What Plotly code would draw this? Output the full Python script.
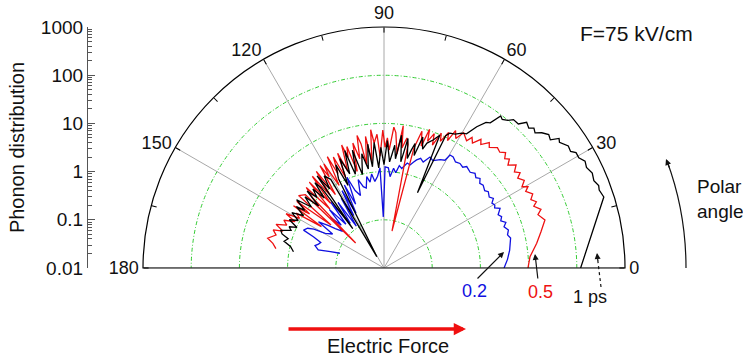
import plotly.graph_objects as go

W, H = 743, 357

# ---------------- data (polar angle in degrees, phonon distribution) ----------------
black_theta = [0, 17.9, 19.9, 21, 22.6, 24.5, 26.4, 28, 29.5, 31, 32, 33.5, 35.6, 36.5, 37.6, 39, 40.6,
               41.8, 43, 44, 45.6, 47, 48.9, 50, 51.5, 52.5, 53.8, 55, 56.7, 58.4, 60, 62, 64, 65, 66,
               67.2, 69, 71, 72, 73.5, 75, 76, 77, 78, 79.5, 81, 82.5, 84, 85, 86, 87, 88.5, 90, 91.5,
               93, 94.5, 95.5, 96.5, 97.5, 99, 101, 103, 105, 106, 107, 108.5, 110, 112, 113.5, 115,
               117, 122.5, 121, 123, 124.5, 126, 128.5, 128, 129, 130.5, 132, 133.5, 135, 136.5, 138,
               140, 142, 144, 145, 147, 149, 151, 153, 155, 156.5, 158, 160, 161.5, 163, 165, 167,
               169.8]
black_val = [120, 620, 560, 590, 520, 560, 490, 530, 440, 445, 367, 385, 300, 330, 227, 250, 205,
             160, 179, 150, 170, 122, 122, 100, 87, 95, 54, 49, 32, 18.5, 17, 14, 13, 10.7, 0.51,
             9.7, 7, 5.5, 3.9, 6.8, 2.6, 4.6, 3.2, 2.1, 5.4, 1.7, 6, 1.9, 3.6, 2.3, 1.6, 4.4, 1.4,
             3.2, 1.2, 4.1, 2.2, 1.3, 3.9, 1.2, 2.6, 0.98, 3.4, 1.5, 1.08, 3.7, 1.2, 2.8, 0.74, 2.3,
             1.2, 0.019, 1.4, 1.9, 0.98, 2.3, 0.11, 1.3, 1.9, 0.81, 1.6, 1.05, 1.8, 0.74, 1.6,
             0.93, 2.0, 1.08, 1.65, 0.98, 1.7, 1.08, 1.6, 0.98, 1.4, 1.2, 1.9, 1.7, 1.2, 1.4, 0.98,
             0.81]

red_theta = [0, 4.4, 9.2, 13, 16.6, 19.1, 20.5, 22.4, 23.5, 25, 26.5, 28.4, 29.5, 30.5, 32, 33.9, 35,
             36.4, 38, 39.7, 41, 42.2, 43.5, 45, 46.7, 48.9, 50, 51.9, 53, 54.7, 56, 57, 59.5, 61,
             62.5, 63.5, 64.5, 66, 67, 68.5, 69.5, 71, 71.8, 73, 74.5, 76, 77.8, 79, 80, 81.5, 82.3,
             83.5, 85, 86, 87.5, 88.5, 89.5, 90.5, 92, 93, 94.5, 95.5, 96.5, 98, 99.5, 100.5, 101.5,
             102.5, 104, 105.5, 107, 108, 109, 110.5, 112, 113, 114.5, 116, 117, 118.5, 120, 121,
             122, 123.5, 125, 126.5, 128, 129.5, 131, 132.5, 134, 135.5, 138.5, 137, 139.7, 141,
             142.6, 144, 145.5, 146.5, 148, 149.5, 151, 152.5, 154.5, 156.2, 158, 160, 161, 163,
             165.6, 167.5, 169.8]
red_val = [9.7, 10.9, 16.2, 22, 30.5, 24, 30, 23, 28, 23, 28, 22, 27, 21, 27, 22, 28,
           23, 30, 22, 28, 24, 30, 25, 27, 21, 25, 18, 22, 15, 18.5, 14, 18, 11.8,
           16.4, 9, 13, 7.5, 11, 5.5, 9.5, 6, 10.7, 4.4, 8.8, 3.7, 0.061, 4.1, 5.5, 3.3, 9.5,
           2.4, 6.6, 8.5, 2.8, 5, 3.2, 7.3, 2.1, 6, 4, 7.6, 1.7, 5.7, 1.5, 4.2, 6.4,
           2.1, 4.7, 1.2, 4.3, 2.6, 5, 1.4, 3.7, 1.08, 3.4, 1.5, 3.9, 0.89, 3.1, 1.6,
           3.2, 0.67, 2.8, 0.75, 2.6, 0.55, 2.3, 0.46, 2.1, 1.2, 0.061, 1.7, 2.1, 0.26,
           1.9, 0.81, 1.9, 0.36, 1.4, 1.08, 2.1, 1.2, 2.0, 1.6, 2.6, 1.7, 2.7, 2.2,
           3.1, 2.3, 1.9]

blue_theta = [0, 4, 8.1, 13.3, 15, 17, 19, 20.5, 22, 23.6, 25, 27.2, 28.5, 29.6, 31, 32.5, 34, 36.2,
              37.5, 39.9, 41.5, 43, 44.5, 46.1, 48, 50.8, 52, 54, 56, 58.1, 59.7, 60.5, 62.6, 64,
              65.5, 67.5, 69.7, 71.5, 73.2, 74.5, 75.8, 77.5, 79.9, 81.5, 83, 84.5, 86.2, 87.5,
              89.4, 90.8, 92.3, 94, 96, 97.5, 99.2, 100.7, 102.5, 104.3, 106.3, 108, 110.4, 112.2,
              114, 115.5, 117, 118.5, 120, 121.5, 123.5, 125, 127, 129, 131, 133, 135, 136.5,
              138.5, 141, 142.5, 144.8, 146.5, 149.5, 151, 152.5, 154.8, 156.1, 158, 160, 162,
              164.7, 163, 161.5]
blue_val = [3.1, 3.7, 4.3, 5, 4.5, 5, 4.3, 5, 4.1, 4.6, 4.1, 5.1, 4.1, 4.4, 4.1, 4.9, 4.3, 4.8,
            4.3, 4.8, 4.5, 5.3, 4.7, 5.3, 4.7, 5.2, 4.5, 4.8, 4.5, 5.2, 5.2, 3.7, 3.4, 3.1,
            2.8, 3.1, 2.2, 2.5, 2.2, 1.9, 1.6, 1.7, 1.25, 1.4, 0.98, 1.2, 0.79, 1.2,
            1.25, 0.115, 1.2, 0.81, 0.64, 0.93, 0.64, 0.85, 0.5, 0.55, 0.81, 0.38, 0.52, 1.08,
            0.28, 0.81, 0.19, 0.67, 0.18, 0.5, 0.11, 0.46, 0.145, 0.58, 0.16, 0.46, 0.18, 0.34,
            0.14, 0.2, 0.28, 0.46, 0.19, 0.26, 0.46, 0.61, 0.70, 0.4, 0.26, 0.28, 0.32,
            0.26, 0.145, 0.092]

spoke_angles = [0, 30, 60, 90, 120, 150, 180]
radial_range = [0.01, 1000]
decade_vals = [0.01, 0.1, 1, 10, 100, 1000]
decade_text = ["0.01", "0.1", "1", "10", "100", "1000"]
angle_tickvals = list(range(0, 181, 15))
angle_ticktext = [str(a) if a % 30 == 0 else "" for a in angle_tickvals]

FONT = "Liberation Sans, Arial, sans-serif"


def px(x):
    return x / W


def py(y):
    return 1 - y / H


fig = go.Figure()

for a in spoke_angles:
    fig.add_trace(go.Scatterpolar(r=radial_range, theta=[a, a], mode="lines",
                                  line=dict(color="#a8a8a8", width=1),
                                  showlegend=False, hoverinfo="skip"))

for th, v, c in [(blue_theta, blue_val, "#1010e0"),
                 (red_theta, red_val, "#ee1111"),
                 (black_theta, black_val, "#000000")]:
    fig.add_trace(go.Scatterpolar(r=v, theta=th, mode="lines",
                                  line=dict(color=c, width=1.3),
                                  showlegend=False, hoverinfo="skip"))

# dummy cartesian trace so the left log axis is drawn
fig.add_trace(go.Scatter(x=[None], y=[None], xaxis="x", yaxis="y",
                         showlegend=False, hoverinfo="skip"))

ydom = [py(268), py(27)]
minor_vals = [m * 10 ** e for e in range(-2, 3) for m in range(2, 10)]

fig.update_layout(
    width=W, height=H,
    margin=dict(l=0, r=0, t=0, b=0, pad=0, autoexpand=False),
    paper_bgcolor="white", plot_bgcolor="white",
    font=dict(family=FONT, color="#111"),
    polar=dict(
        domain=dict(x=[px(143), px(625)], y=ydom),
        sector=[0, 180],
        bgcolor="white",
        radialaxis=dict(type="log", range=[-2, 3], tickvals=[0.1, 1, 10, 100],
                        showticklabels=False, ticks="", showline=False,
                        gridcolor="#33cc33", griddash="4px,2px,1px,2px", gridwidth=1.2),
        angularaxis=dict(tickmode="array", tickvals=angle_tickvals, ticktext=angle_ticktext,
                         ticks="inside", ticklen=5, tickcolor="black",
                         showline=True, linecolor="black", linewidth=1.2,
                         showgrid=False, tickfont=dict(size=18, color="#111", family=FONT)),
    ),
    xaxis=dict(domain=[px(88), px(90)], range=[0, 1], visible=False),
    yaxis=dict(domain=ydom, type="log", range=[-2, 3], anchor="x", side="left",
               showline=True, linecolor="#555", linewidth=1.2,
               ticks="inside", ticklen=7, tickcolor="#555",
               tickmode="array", tickvals=decade_vals, ticktext=decade_text,
               minor=dict(ticks="inside", ticklen=4, tickcolor="#555", tickvals=minor_vals),
               showgrid=False, zeroline=False, automargin=False,
               tickfont=dict(size=19, color="#111", family=FONT),
               title=dict(text="Phonon distribution", font=dict(size=20, color="#111", family=FONT),
                          standoff=10)),
)

ann = []


def note(x, y, **kw):
    d = dict(x=px(x), y=py(y), xref="paper", yref="paper", xanchor="center", yanchor="middle")
    d.update(kw)
    ann.append(d)


note(636, 33, text="F=75 kV/cm", showarrow=False, font=dict(size=21, color="#111"))
note(695, 199, text="Polar<br>angle", showarrow=False, align="left",
     font=dict(size=19, color="#111"), xanchor="left")
note(474, 291, text="0.2", showarrow=False, font=dict(size=18, color="#1010e0"))
note(540, 292, text="0.5", showarrow=False, font=dict(size=18, color="#ee1111"))
note(590, 297, text="1 ps", showarrow=False, font=dict(size=18, color="#111"))
# pointer arrows
note(504, 252, ax=-28, ay=28, text="", showarrow=True,
     arrowhead=2, arrowsize=1, arrowwidth=1.2, arrowcolor="#111")
note(535, 254, ax=3, ay=26, text="", showarrow=True,
     arrowhead=2, arrowsize=1, arrowwidth=1.2, arrowcolor="#111")
note(597, 253, ax=1, ay=9, text="", showarrow=True,
     arrowhead=2, arrowsize=1, arrowwidth=1.2, arrowcolor="#111")
# polar angle arrow head
note(666, 159, ax=4, ay=10, text="", showarrow=True,
     arrowhead=2, arrowsize=1, arrowwidth=1.2, arrowcolor="#111")
# electric force arrow
note(466, 329, ax=-179, ay=0, text="", showarrow=True,
     arrowhead=2, arrowsize=0.7, arrowwidth=3.5, arrowcolor="#f01010")
note(388, 346, text="Electric Force", showarrow=False, font=dict(size=20, color="#111"))
fig.update_layout(annotations=ann)

shapes = []
shapes.append(dict(type="line", xref="paper", yref="paper",
                   x0=px(601), y0=py(287), x1=px(597.5), y1=py(258),
                   line=dict(color="#111", width=1.2, dash="dot")))
shapes.append(dict(type="path", xref="paper", yref="paper",
                   path=f"M {px(686)},{py(268)} Q {px(686)},{py(212)} {px(667)},{py(161)}",
                   line=dict(color="#111", width=1.2)))
fig.update_layout(shapes=shapes)

fig.write_html("out.html")
